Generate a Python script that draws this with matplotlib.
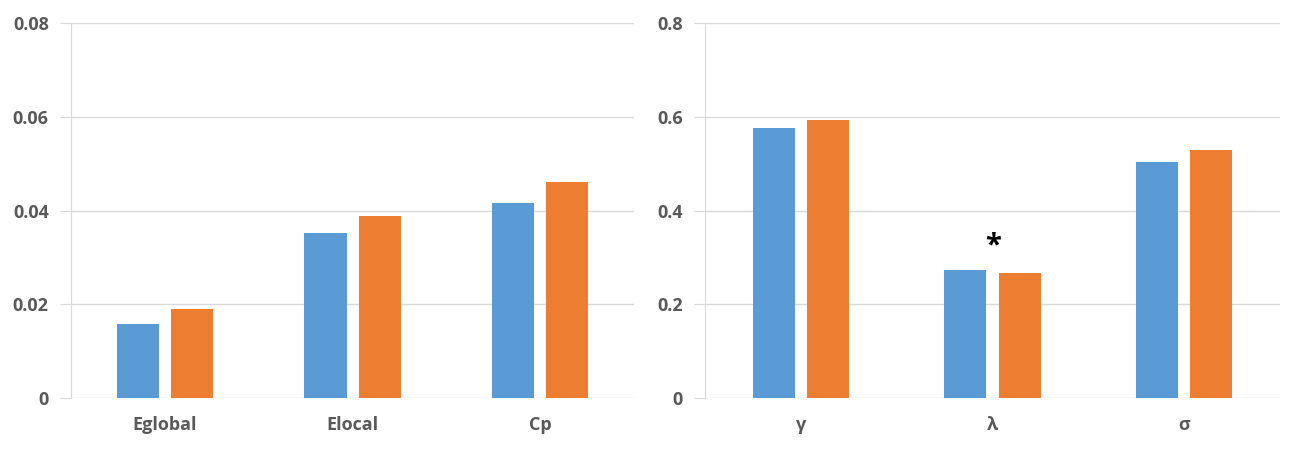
import numpy as np
import matplotlib.pyplot as plt

plt.rcParams['font.family'] = ['Open Sans', 'DejaVu Sans']

left_cats = ['Eglobal', 'Elocal', 'Cp']
left_blue = [0.0158, 0.0352, 0.0416]
left_orange = [0.0190, 0.0388, 0.0461]
left_ticks = [0, 0.02, 0.04, 0.06, 0.08]
left_ticklabels = ['0', '0.02', '0.04', '0.06', '0.08']

right_cats = ['γ', 'λ', 'σ']
right_blue = [0.576, 0.273, 0.503]
right_orange = [0.593, 0.267, 0.529]
right_ticks = [0, 0.2, 0.4, 0.6, 0.8]
right_ticklabels = ['0', '0.2', '0.4', '0.6', '0.8']

BLUE = '#5b9bd5'
ORANGE = '#ed7d31'
GRID = '#d9d9d9'
TEXT = '#595959'


def draw_panel(ax, cats, blue, orange, ticks, ticklabels, width):
    x = np.arange(len(cats))
    off = width / 2 + 0.032
    ax.bar(x - off, blue, width, color=BLUE, zorder=3)
    ax.bar(x + off, orange, width, color=ORANGE, zorder=3)
    ax.set_xlim(-0.5, len(cats) - 0.5)
    ax.set_ylim(ticks[0], ticks[-1])
    ax.set_yticks(ticks)
    ax.set_yticklabels(ticklabels)
    ax.set_xticks(x)
    ax.set_xticklabels(cats)
    ax.yaxis.grid(True, color=GRID, linewidth=1, zorder=0)
    for s in ['top', 'right', 'bottom']:
        ax.spines[s].set_visible(False)
    ax.spines['left'].set_color(GRID)
    ax.tick_params(axis='y', length=8, color=GRID, pad=8,
                   labelsize=13, labelcolor=TEXT)
    ax.tick_params(axis='x', length=0, pad=13, labelsize=13, labelcolor=TEXT)
    for lbl in ax.get_xticklabels() + ax.get_yticklabels():
        lbl.set_fontweight('bold')


fig = plt.figure(figsize=(13.11, 4.51), dpi=100)
ax1 = fig.add_axes([0.0542, 0.1175, 0.4294, 0.8315])
ax2 = fig.add_axes([0.5378, 0.1175, 0.4386, 0.8315])

draw_panel(ax1, left_cats, left_blue, left_orange, left_ticks, left_ticklabels, 0.224)
draw_panel(ax2, right_cats, right_blue, right_orange, right_ticks, right_ticklabels, 0.219)

# significance marker
ax2.text(1, 0.325, '*', ha='center', va='center', fontsize=21,
         fontweight='bold', color='black')

fig.savefig('out.png', dpi=100)
